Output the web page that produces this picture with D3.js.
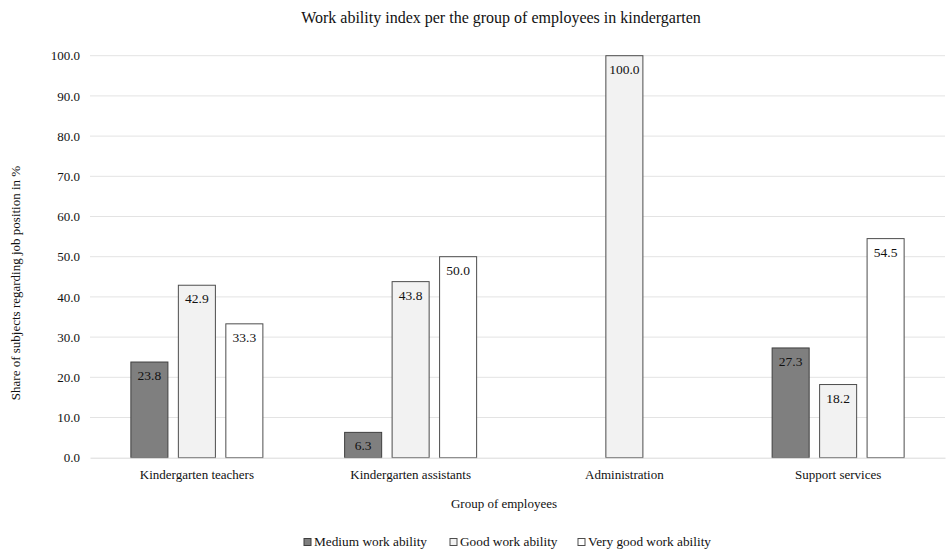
<!DOCTYPE html>
<html lang="en">

<head>
    <meta charset="UTF-8" />
    <title>Work ability index</title>
    <script src="https://d3js.org/d3.v7.min.js"></script>
    <style>
        body { margin: 0; background: #fff; }
        svg text { font-family: "Liberation Serif", "Times New Roman", serif; fill: #111; }
    </style>
</head>

<body>
    <div id="chart"></div>

    <script>
        var w = 946;
        var h = 549;

        var groups = ["Kindergarten teachers", "Kindergarten assistants", "Administration", "Support services"];
        var seriesNames = ["Medium work ability", "Good work ability", "Very good work ability"];
        var medium = [23.8, 6.3, 0, 27.3];
        var good = [42.9, 43.8, 100.0, 18.2];
        var veryGood = [33.3, 50.0, 0, 54.5];
        var yTicks = [0, 10, 20, 30, 40, 50, 60, 70, 80, 90, 100];

        var fills = ["#7f7f7f", "#f2f2f2", "#ffffff"];
        var strokes = ["#3f3f3f", "#4d4d4d", "#4d4d4d"];

        var svg = d3.select("#chart")
            .append("svg")
            .attr("width", w)
            .attr("height", h);

        var xScale = d3.scaleBand()
            .domain(groups)
            .range([90, 945]);

        var inner = d3.scaleBand()
            .domain(seriesNames)
            .range([-66, 66])
            .paddingInner(0.22);

        var yScale = d3.scaleLinear()
            .domain([0, 100])
            .range([457.7, 55.7]);

        // gridlines
        svg.append("g")
            .selectAll("line")
            .data(yTicks.slice(1))
            .enter()
            .append("line")
            .attr("x1", 90)
            .attr("x2", 945)
            .attr("y1", function (d) { return yScale(d); })
            .attr("y2", function (d) { return yScale(d); })
            .attr("stroke", "#e3e3e3")
            .attr("stroke-width", 1);

        // y axis labels
        var yAxis = d3.axisLeft(yScale)
            .tickValues(yTicks)
            .tickFormat(d3.format(".1f"))
            .tickSize(0)
            .tickPadding(0);

        var yg = svg.append("g")
            .attr("transform", "translate(80,0)")
            .call(yAxis);
        yg.select(".domain").remove();
        yg.selectAll("text")
            .style("font-size", "13px");

        // bars
        var rows = groups.map(function (g, i) {
            return [medium[i], good[i], veryGood[i]].map(function (v, j) {
                return { group: g, series: seriesNames[j], idx: j, value: v };
            });
        });

        var gGroups = svg.append("g")
            .selectAll("g")
            .data(rows)
            .enter()
            .append("g")
            .attr("transform", function (d, i) {
                return "translate(" + (xScale(groups[i]) + xScale.bandwidth() / 2) + ",0)";
            });

        var barData = function (d) { return d.filter(function (b) { return b.value > 0; }); };

        gGroups.selectAll("rect")
            .data(barData)
            .enter()
            .append("rect")
            .attr("x", function (d) { return inner(d.series); })
            .attr("y", function (d) { return yScale(d.value); })
            .attr("width", inner.bandwidth())
            .attr("height", function (d) { return yScale(0) - yScale(d.value); })
            .attr("fill", function (d) { return fills[d.idx]; })
            .attr("stroke", function (d) { return strokes[d.idx]; })
            .attr("stroke-width", 1);

        gGroups.selectAll("text")
            .data(barData)
            .enter()
            .append("text")
            .attr("x", function (d) { return inner(d.series) + inner.bandwidth() / 2; })
            .attr("y", function (d) { return yScale(d.value) + 18; })
            .attr("text-anchor", "middle")
            .style("font-size", "13.5px")
            .text(function (d) { return d3.format(".1f")(d.value); });

        // x axis
        var xAxis = d3.axisBottom(xScale)
            .tickSize(0)
            .tickPadding(12);

        var xg = svg.append("g")
            .attr("transform", "translate(0," + yScale(0) + ")")
            .call(xAxis);
        xg.select(".domain")
            .attr("stroke", "#d9d9d9");
        xg.selectAll("text")
            .style("font-size", "13px");

        // titles
        svg.append("text")
            .attr("x", 501)
            .attr("y", 23)
            .attr("text-anchor", "middle")
            .style("font-size", "16px")
            .text("Work ability index per the group of employees in kindergarten");

        svg.append("text")
            .attr("x", 504)
            .attr("y", 508)
            .attr("text-anchor", "middle")
            .style("font-size", "13px")
            .text("Group of employees");

        svg.append("text")
            .attr("transform", "translate(20,283) rotate(-90)")
            .attr("text-anchor", "middle")
            .style("font-size", "13px")
            .text("Share of subjects regarding job position in %");

        // legend
        var legendX = [304, 450, 578];
        var legend = svg.append("g");

        legend.selectAll("rect")
            .data(seriesNames)
            .enter()
            .append("rect")
            .attr("x", function (d, i) { return legendX[i]; })
            .attr("y", 538.5)
            .attr("width", 7)
            .attr("height", 7)
            .attr("fill", function (d, i) { return fills[i]; })
            .attr("stroke", function (d, i) { return strokes[i]; })
            .attr("stroke-width", 1);

        legend.selectAll("text")
            .data(seriesNames)
            .enter()
            .append("text")
            .attr("x", function (d, i) { return legendX[i] + 10; })
            .attr("y", 546)
            .style("font-size", "13.3px")
            .text(function (d) { return d; });
    </script>
</body>

</html>
